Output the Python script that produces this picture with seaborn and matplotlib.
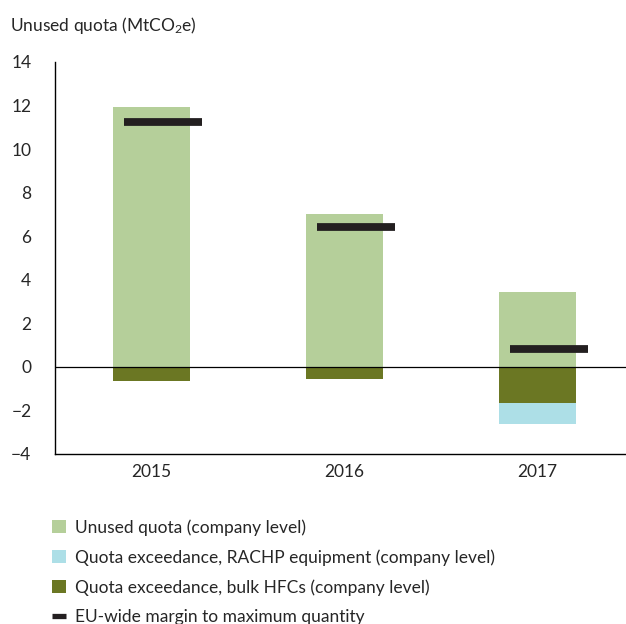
import numpy as np
import pandas as pd
import matplotlib
matplotlib.use('Agg')
import matplotlib.pyplot as plt
import seaborn as sns
from matplotlib.patches import Patch
from matplotlib.lines import Line2D

# Data
years = ['2015', '2016', '2017']
unused_quota = [11.95, 7.0, 3.42]
bulk_hfc_exceed = [-0.63, -0.54, -1.64]
rachp_exceed = [0.0, 0.0, -0.98]
eu_margin = [11.26, 6.43, 0.83]

c_unused = '#b5cf9a'
c_bulk = '#6b7723'
c_rachp = '#addfe7'
c_margin = '#231f20'

sns.set_style('white')
plt.rcParams['font.family'] = ['Lato', 'DejaVu Sans']
plt.rcParams['mathtext.fontset'] = 'custom'
plt.rcParams['mathtext.rm'] = 'Lato'
plt.rcParams['mathtext.it'] = 'Lato'

df = pd.DataFrame({'year': years, 'unused': unused_quota, 'bulk': bulk_hfc_exceed,
                   'rachp': rachp_exceed, 'margin': eu_margin})
df['neg_total'] = df['bulk'] + df['rachp']

fig = plt.figure(figsize=(6.26, 6.24), dpi=100)
ax = fig.add_axes([55 / 626, 170 / 624, 1 - 55 / 626, 392 / 624])

bw = 0.40
fs = 12.5
sns.barplot(data=df, x='year', y='unused', color=c_unused, width=bw, ax=ax,
            saturation=1, linewidth=0)
sns.barplot(data=df, x='year', y='neg_total', color=c_rachp, width=bw, ax=ax,
            saturation=1, linewidth=0)
sns.barplot(data=df, x='year', y='bulk', color=c_bulk, width=bw, ax=ax,
            saturation=1, linewidth=0)

# EU-wide margin markers, slightly shifted to the right of each bar
pos = np.arange(len(years))
shift = 0.06
ax.hlines(df['margin'], pos - bw / 2 + shift, pos + bw / 2 + shift,
          colors=c_margin, linewidth=5.6, capstyle='butt', zorder=5)

ax.axhline(0, color='black', linewidth=0.9, zorder=4)

ax.set_ylim(-4, 14)
ax.set_xlim(-0.5, 2.5 - 8 / 193)
ax.set_yticks(range(-4, 15, 2))
ax.set_xticks(pos)
ax.set_xticks([0.5, 1.5], minor=True)
ax.tick_params(axis='x', which='major', length=0, pad=7, labelsize=fs)
ax.tick_params(axis='x', which='minor', length=8, width=1, direction='out', color='black')
ax.tick_params(axis='y', length=10, width=1, direction='out', pad=7, labelsize=fs, color='black')
ax.set_xlabel('')
ax.set_ylabel('')
for side in ['top', 'right']:
    ax.spines[side].set_visible(False)
for side in ['left', 'bottom']:
    ax.spines[side].set_color('black')
    ax.spines[side].set_linewidth(1)

fig.text(10 / 626, 1 - 26 / 624, 'Unused quota (MtCO$_2$e)', fontsize=fs,
         va='center', ha='left')

handles = [
    Patch(facecolor=c_unused, edgecolor='none'),
    Patch(facecolor=c_rachp, edgecolor='none'),
    Patch(facecolor=c_bulk, edgecolor='none'),
    Line2D([0], [0], color=c_margin, linewidth=3.8, solid_capstyle='butt'),
]
labels = ['Unused quota (company level)',
          'Quota exceedance, RACHP equipment (company level)',
          'Quota exceedance, bulk HFCs (company level)',
          'EU-wide margin to maximum quantity']
fig.legend(handles, labels, loc='upper left', bbox_to_anchor=(52 / 626, 1 - 519 / 624),
           frameon=False, fontsize=fs, handlelength=0.8, handleheight=0.8,
           handletextpad=0.5, labelspacing=0.78, borderaxespad=0, borderpad=0)

fig.savefig('out.png', dpi=100)
